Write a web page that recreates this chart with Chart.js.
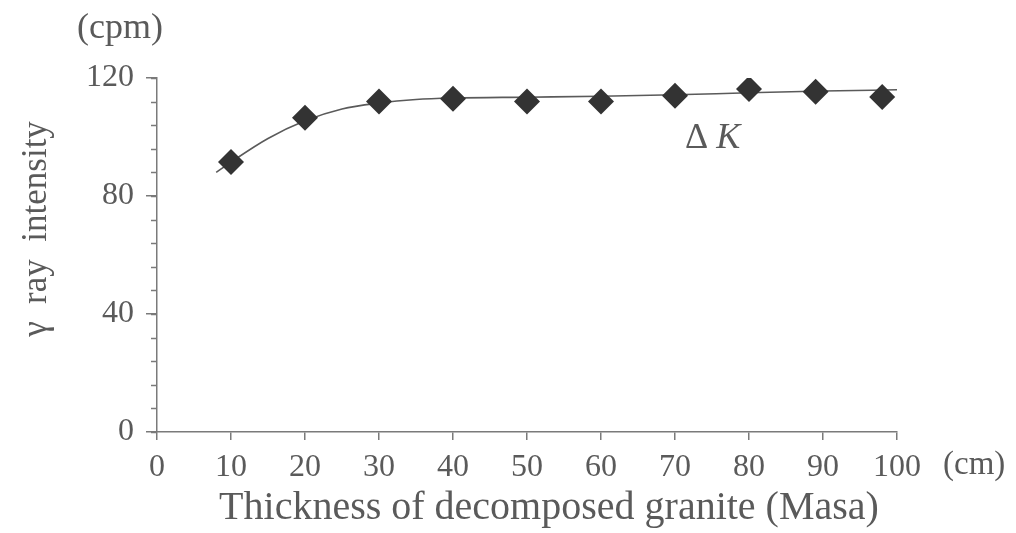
<!DOCTYPE html>
<html><head><meta charset="utf-8">
<script src="https://cdn.jsdelivr.net/npm/chart.js@4/dist/chart.umd.min.js"></script>
<style>html,body{margin:0;padding:0;background:#fff}#wrap{width:1016px;height:533px}</style>
</head><body><div id="wrap"><canvas id="c" width="1016" height="533"></canvas></div>
<script>
// Measured points (thickness in cm, gamma ray intensity in cpm)
const thickness = [10, 20, 30, 40, 50, 60, 70, 80, 89, 98];
const intensity = [91.5, 106.5, 112, 113, 112, 112, 114, 116.3, 115.3, 113.6];
// Fitted curve
const fitX = [8, 10, 15, 20, 25, 30, 35, 40, 50, 60, 70, 80, 90, 100];
const fitY = [88, 91.5, 99.5, 105.5, 109.5, 111.5, 112.7, 113.2, 113.5, 113.8, 114.3, 115, 115.6, 116];
const xTickStep = 10;
const yTickStep = 40;
const yMinorStep = 8;
const seriesLabel = ['\u0394', 'K'];
const xTitle = 'Thickness of decomposed granite (Masa)';
const yTitle = '\u03B3  ray  intensity';
const yUnit = '(cpm)';
const xUnit = '(cm)';

const FONT = '"Liberation Serif", "DejaVu Serif", serif';
const AXIS = '#7a7a7a';
const TXT = '#5a5a5a';

const extras = {
  id: 'extras',
  afterDraw(chart) {
    const ctx = chart.ctx;
    const ys = chart.scales.y, xs = chart.scales.x;
    ctx.save();
    // minor y ticks
    ctx.strokeStyle = AXIS; ctx.lineWidth = 1.5;
    for (let v = ys.min; v <= ys.max; v += yMinorStep) {
      const py = Math.round(ys.getPixelForValue(v)) + 0.5;
      ctx.beginPath(); ctx.moveTo(ys.right - 6, py); ctx.lineTo(ys.right, py); ctx.stroke();
    }
    ctx.fillStyle = TXT;
    ctx.textBaseline = 'middle';
    ctx.textAlign = 'center';
    ctx.font = '36px ' + FONT;
    ctx.fillText(yUnit, 120, 29);
    ctx.font = '33px ' + FONT;
    ctx.textAlign = 'left';
    ctx.fillText(xUnit, xs.getPixelForValue(xs.max) + 46, 465);
    // axis titles
    ctx.textAlign = 'center';
    ctx.font = '40px ' + FONT;
    ctx.fillText(xTitle, 549, 508);
    ctx.save();
    ctx.translate(37, 229);
    ctx.rotate(-Math.PI / 2);
    ctx.font = '35px ' + FONT;
    ctx.fillText(yTitle, 0, 0);
    ctx.restore();
    // series label
    const lx = 685, ly = 139;
    ctx.textAlign = 'left';
    ctx.font = '36px ' + FONT;
    ctx.fillText(seriesLabel[0], lx, ly);
    const w = ctx.measureText(seriesLabel[0]).width;
    ctx.font = 'italic 36px ' + FONT;
    ctx.fillText(seriesLabel[1], lx + w + 8, ly);
    ctx.restore();
  }
};

new Chart(document.getElementById('c'), {
  type: 'scatter',
  data: {
    datasets: [
      {
        label: 'fit',
        data: fitX.map((x, i) => ({x, y: fitY[i]})),
        showLine: true,
        borderColor: '#5a5a5a',
        borderWidth: 1.6,
        pointRadius: 0,
        cubicInterpolationMode: 'monotone',
        order: 2
      },
      {
        label: 'K',
        data: thickness.map((x, i) => ({x, y: intensity[i]})),
        showLine: false,
        pointStyle: 'rectRot',
        pointRadius: 13,
        pointBackgroundColor: '#333333',
        pointBorderColor: '#333333',
        pointBorderWidth: 0,
        order: 1
      }
    ]
  },
  options: {
    responsive: false,
    animation: false,
    devicePixelRatio: 1,
    layout: {padding: {left: 0, top: 78, right: 119, bottom: 0}},
    plugins: {legend: {display: false}, tooltip: {enabled: false}},
    scales: {
      x: {
        type: 'linear', min: 0, max: 100,
        afterFit(s) { s.height = 101; },
        ticks: {stepSize: xTickStep, color: TXT, font: {family: FONT, size: 32}, padding: 8, maxRotation: 0},
        grid: {display: true, drawOnChartArea: false, drawTicks: true, tickLength: 8, color: AXIS, lineWidth: 1.5},
        border: {display: true, color: AXIS, width: 1.5}
      },
      y: {
        type: 'linear', min: 0, max: 120,
        afterFit(s) { s.width = 157; },
        ticks: {stepSize: yTickStep, color: TXT, font: {family: FONT, size: 32}, padding: 12},
        grid: {display: true, drawOnChartArea: false, drawTicks: true, tickLength: 11, color: AXIS, lineWidth: 1.5},
        border: {display: true, color: AXIS, width: 1.5}
      }
    }
  },
  plugins: [extras]
});
</script>
</body></html>
